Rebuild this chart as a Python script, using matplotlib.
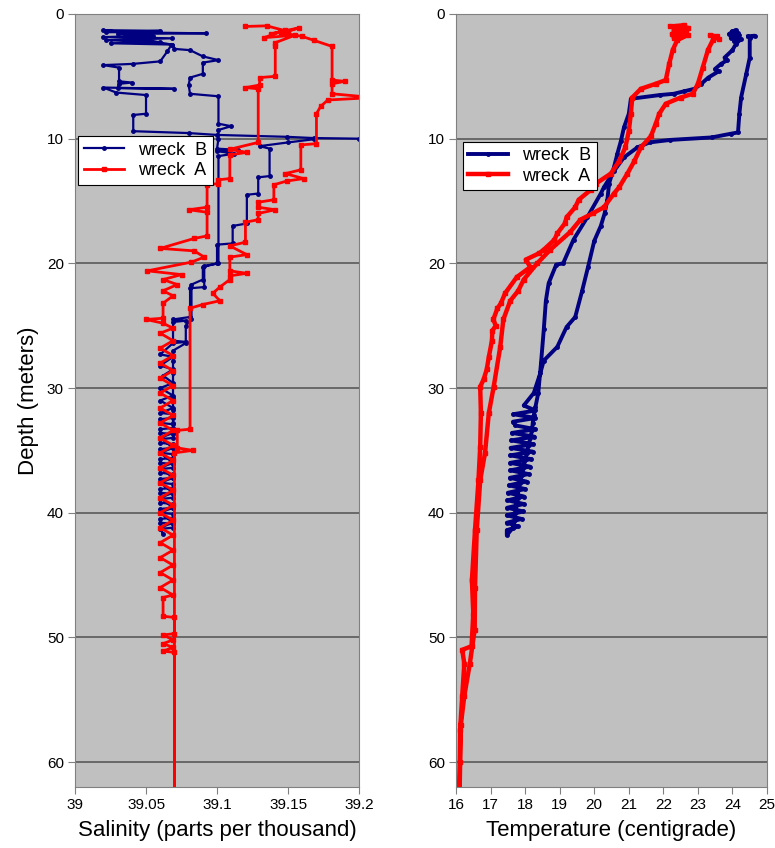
import matplotlib
matplotlib.use('Agg')
import matplotlib.pyplot as plt

plt.rcParams['font.family'] = ['Liberation Sans', 'DejaVu Sans']

# salinity, wreck B (depth in m, salinity in ppt)
sal_b_depth = [
    1.80, 9.95, 10.00, 9.95, 9.85, 9.70, 9.55, 9.40, 8.10, 8.00,
    6.50, 6.30, 5.90, 6.00, 5.95, 5.60, 5.50, 5.40, 4.30, 4.10,
    4.00, 3.80, 3.00, 2.45, 2.35, 2.25, 2.10, 1.95, 1.85, 1.75,
    1.60, 1.55, 1.45, 1.35, 1.30, 1.50, 2.00, 2.45,
    2.80, 2.90, 3.40, 3.70, 3.90, 4.80, 5.10, 5.70, 6.40, 6.60,
    8.80, 9.00, 9.30, 10.00, 10.80, 10.90, 11.00, 11.20, 11.40, 20.00,
    20.20, 21.90, 22.00, 24.30, 24.50, 24.60, 24.70, 26.20, 26.30, 26.40,
    27.30, 27.50, 28.20, 28.50, 29.00, 29.60, 30.00, 30.60, 31.00, 31.60,
    32.00, 32.10, 32.40, 32.50, 32.80, 32.90, 33.20, 33.30, 33.60, 33.70,
    34.00, 34.10, 34.40, 34.50, 34.80, 34.90, 35.20, 35.30, 35.60, 35.70,
    36.00, 36.10, 36.40, 36.50, 36.80, 36.90, 37.20, 37.30, 37.60, 37.70,
    38.00, 38.10, 38.40, 38.50, 38.80, 38.90, 39.20, 39.30, 39.60, 39.70,
    40.00, 40.10, 40.40, 40.50, 40.80, 40.90, 41.20, 41.30, 41.70,
    41.20, 40.80, 40.00, 39.60, 38.80, 38.40, 37.60, 37.20, 36.40, 36.00,
    35.20, 34.80, 34.00, 33.60, 32.80, 31.80, 30.80, 29.80, 28.80, 27.80,
    27.00, 26.40, 25.00, 24.50, 21.70, 21.30, 20.30, 20.00, 18.50, 18.40,
    17.00, 16.80, 14.50, 14.40, 13.10, 13.00, 10.80, 10.60, 10.30, 10.05,
]
sal_b = [
    39.280, 39.280, 39.200, 39.168, 39.149, 39.100, 39.080, 39.041, 39.041, 39.050,
    39.050, 39.029, 39.020, 39.070, 39.030, 39.031, 39.040, 39.031, 39.031, 39.020,
    39.041, 39.060, 39.065, 39.068, 39.025, 39.060, 39.022, 39.068, 39.020, 39.055,
    39.030, 39.092, 39.022, 39.060, 39.020, 39.040, 39.045, 39.068,
    39.070, 39.081, 39.090, 39.101, 39.090, 39.090, 39.081, 39.080, 39.081, 39.101,
    39.101, 39.110, 39.101, 39.101, 39.100, 39.115, 39.100, 39.112, 39.101, 39.101,
    39.091, 39.091, 39.081, 39.081, 39.069, 39.078, 39.069, 39.069, 39.078, 39.069,
    39.060, 39.069, 39.060, 39.069, 39.062, 39.069, 39.060, 39.069, 39.060, 39.069,
    39.060, 39.069, 39.069, 39.060, 39.060, 39.069, 39.069, 39.060, 39.060, 39.069,
    39.069, 39.060, 39.060, 39.069, 39.069, 39.060, 39.060, 39.069, 39.069, 39.060,
    39.060, 39.069, 39.069, 39.060, 39.060, 39.069, 39.069, 39.060, 39.060, 39.069,
    39.069, 39.060, 39.060, 39.069, 39.069, 39.060, 39.060, 39.069, 39.069, 39.060,
    39.060, 39.069, 39.069, 39.060, 39.060, 39.069, 39.069, 39.060, 39.062,
    39.060, 39.069, 39.060, 39.069, 39.060, 39.069, 39.060, 39.069, 39.060, 39.069,
    39.060, 39.069, 39.060, 39.069, 39.069, 39.069, 39.069, 39.069, 39.069, 39.069,
    39.069, 39.078, 39.078, 39.082, 39.082, 39.090, 39.090, 39.100, 39.100, 39.111,
    39.111, 39.121, 39.121, 39.129, 39.129, 39.137, 39.137, 39.130, 39.150, 39.168,
]

# salinity, wreck A
sal_a_depth = [
    1.00, 0.95, 1.40, 1.10, 1.60, 1.30, 1.90, 1.70, 2.30, 2.60,
    5.00, 5.10, 5.70, 5.90, 6.00, 10.30, 10.85, 11.10, 11.30, 13.20,
    13.30, 13.60, 13.70, 15.50, 15.70, 15.90, 17.80, 18.00, 18.80, 19.00,
    19.50, 19.90, 20.60, 20.90, 21.30, 21.70, 22.20, 22.60, 23.20, 24.40,
    24.50, 24.80, 25.20, 25.60, 26.20, 26.80, 27.40, 28.00, 28.60, 29.20,
    29.80, 30.40, 31.00, 31.60, 32.20, 32.80, 33.40, 34.00, 34.60, 35.20,
    35.80, 36.40, 37.00, 37.60, 38.20, 38.80, 39.40, 40.00, 40.60, 41.20,
    41.80, 42.40, 43.00, 43.60, 44.20, 44.80, 45.40, 46.00, 46.60, 46.80,
    48.30, 48.40, 49.70, 49.80, 50.20, 50.50, 50.80, 51.10, 51.20, 63.00,
    35.20, 35.00, 34.80, 33.40, 33.30, 23.60, 23.30, 23.00, 22.40, 21.90,
    21.30, 21.00, 20.80, 20.60, 19.50, 19.30, 18.60, 18.30, 16.70, 16.50,
    16.00, 15.70, 15.50, 15.10, 14.90, 13.70, 13.40, 13.20, 12.80, 12.50,
    10.50, 10.40, 8.00, 7.40, 6.90, 6.70, 6.40, 5.60, 5.40, 5.30,
    2.60, 2.10, 1.80, 1.50,
]
sal_a = [
    39.120, 39.135, 39.150, 39.158, 39.138, 39.148, 39.133, 39.155, 39.141, 39.141,
    39.141, 39.130, 39.130, 39.120, 39.129, 39.129, 39.109, 39.121, 39.109, 39.109,
    39.101, 39.101, 39.093, 39.093, 39.080, 39.093, 39.093, 39.084, 39.060, 39.084,
    39.091, 39.082, 39.051, 39.075, 39.062, 39.072, 39.062, 39.069, 39.062, 39.062,
    39.050, 39.062, 39.069, 39.060, 39.069, 39.060, 39.069, 39.060, 39.069, 39.060,
    39.069, 39.060, 39.069, 39.060, 39.069, 39.060, 39.069, 39.060, 39.069, 39.060,
    39.069, 39.060, 39.069, 39.060, 39.069, 39.060, 39.069, 39.060, 39.069, 39.060,
    39.069, 39.060, 39.069, 39.060, 39.069, 39.060, 39.069, 39.060, 39.069, 39.062,
    39.062, 39.070, 39.070, 39.062, 39.069, 39.062, 39.069, 39.062, 39.070, 39.070,
    39.070, 39.083, 39.072, 39.072, 39.081, 39.081, 39.090, 39.102, 39.097, 39.102,
    39.109, 39.109, 39.121, 39.109, 39.109, 39.121, 39.109, 39.120, 39.120, 39.129,
    39.129, 39.141, 39.129, 39.129, 39.140, 39.140, 39.149, 39.161, 39.148, 39.159,
    39.159, 39.170, 39.170, 39.173, 39.178, 39.210, 39.181, 39.181, 39.190, 39.181,
    39.181, 39.168, 39.160, 39.145,
]

# temperature, wreck B (degrees C)
temp_b_depth = [
    1.40, 1.30, 1.60, 1.50, 1.90, 1.70, 2.20, 2.00, 2.40, 2.90,
    3.50, 3.70, 4.00, 4.40, 4.60, 5.10, 5.60, 6.00, 6.20, 6.40,
    6.50, 6.80, 8.00, 9.10, 10.20, 11.20, 12.30, 13.60, 14.90, 16.00,
    17.00, 18.20, 20.30, 22.20, 24.30, 25.10, 26.70, 27.80, 28.80, 30.40,
    31.40, 31.80, 32.10, 32.40, 32.70, 33.00, 33.30, 33.60, 33.90, 34.20,
    34.50, 34.80, 35.10, 35.40, 35.70, 36.00, 36.30, 36.60, 36.90, 37.20,
    37.50, 37.80, 38.10, 38.40, 38.70, 39.00, 39.30, 39.60, 39.90, 40.20,
    40.50, 40.80, 41.10, 41.40, 41.80, 41.20, 40.60, 40.00, 39.40, 38.80,
    38.20, 37.60, 37.00, 36.40, 35.80, 35.20, 34.60, 34.00, 33.40, 32.80,
    32.20, 31.50, 30.40, 28.00, 25.30, 23.00, 21.60, 20.10, 20.00, 18.10,
    16.30, 14.40, 13.90, 12.60, 11.50, 10.70, 10.30, 10.10, 9.90, 9.60,
    9.50, 8.00, 6.70, 4.80, 3.50, 1.90, 1.74, 1.80,
]
temp_b = [
    24.00, 24.10, 23.90, 24.15, 23.95, 24.20, 24.05, 24.25, 24.10, 24.00,
    23.77, 23.85, 23.67, 23.50, 23.60, 23.30, 23.10, 22.90, 22.60, 22.30,
    21.90, 21.06, 21.00, 20.86, 20.77, 20.67, 20.57, 20.43, 20.38, 20.30,
    20.19, 20.00, 19.82, 19.65, 19.45, 19.20, 18.93, 18.54, 18.44, 18.25,
    17.96, 18.30, 17.66, 18.30, 17.65, 17.72, 18.30, 17.62, 18.27, 17.60,
    18.24, 17.58, 18.22, 17.57, 18.18, 17.57, 18.14, 17.57, 18.10, 17.56,
    18.04, 17.53, 18.00, 17.50, 17.97, 17.49, 17.96, 17.48, 17.95, 17.47,
    17.90, 17.47, 17.80, 17.47, 17.47, 17.65, 17.70, 17.72, 17.75, 17.78,
    17.80, 17.85, 17.90, 17.95, 18.00, 18.05, 18.10, 18.15, 18.20, 18.22,
    18.25, 18.30, 18.38, 18.46, 18.54, 18.60, 18.68, 18.90, 19.10, 19.40,
    19.80, 20.19, 20.28, 20.57, 20.86, 21.25, 21.60, 22.20, 23.40, 23.96,
    24.16, 24.20, 24.25, 24.40, 24.50, 24.50, 24.64, 24.45,
]

# temperature, wreck A
temp_a_depth = [
    1.00, 0.90, 1.30, 1.10, 1.60, 1.40, 1.90, 1.70, 2.10, 2.90,
    4.00, 5.30, 5.60, 6.00, 6.70, 8.00, 9.40, 10.70, 11.80, 12.80,
    13.60, 14.10, 14.90, 15.50, 16.30, 16.80, 17.60, 18.10, 18.90, 19.20,
    19.70, 20.30, 21.10, 22.40, 23.20, 23.60, 24.50, 25.00, 25.40, 26.20,
    27.50, 28.50, 29.30, 29.90, 32.00, 34.70, 37.40, 41.40, 45.40, 48.10,
    50.70, 51.00, 52.10, 54.70, 57.40, 60.00, 63.00, 57.00, 54.70, 52.10,
    49.40, 46.00, 41.40, 37.40, 35.20, 32.00, 29.90, 26.70, 24.50, 23.00,
    22.20, 21.30, 20.00, 18.90, 17.50, 16.50, 16.00, 15.50, 14.40, 13.90,
    12.80, 11.80, 10.70, 9.80, 8.80, 8.00, 7.20, 6.70, 6.40, 5.60,
    4.30, 2.90, 2.10, 1.80, 1.70, 2.00,
]
temp_a = [
    22.20, 22.60, 22.30, 22.70, 22.25, 22.65, 22.30, 22.70, 22.40, 22.27,
    22.17, 22.07, 21.78, 21.35, 21.10, 21.06, 21.00, 20.90, 20.72, 20.48,
    20.05, 19.90, 19.55, 19.45, 19.20, 19.15, 18.93, 18.85, 18.54, 18.40,
    18.02, 18.15, 17.76, 17.42, 17.30, 17.20, 17.08, 17.15, 17.05, 17.04,
    16.95, 16.89, 16.80, 16.70, 16.72, 16.70, 16.65, 16.55, 16.46, 16.50,
    16.45, 16.18, 16.24, 16.18, 16.12, 16.11, 16.10, 16.14, 16.24, 16.40,
    16.54, 16.55, 16.60, 16.70, 16.84, 16.95, 17.09, 17.28, 17.37, 17.57,
    17.80, 17.96, 18.35, 18.73, 19.30, 19.60, 19.95, 20.28, 20.57, 20.72,
    20.96, 21.16, 21.35, 21.64, 21.78, 21.88, 22.07, 22.50, 22.85, 23.00,
    23.14, 23.29, 23.43, 23.55, 23.35, 23.60,
]

assert len(sal_b_depth) == len(sal_b)
assert len(sal_a_depth) == len(sal_a)
assert len(temp_b_depth) == len(temp_b)
assert len(temp_a_depth) == len(temp_a)

depth_ticks = [0, 10, 20, 30, 40, 50, 60]
sal_ticks = [39, 39.05, 39.1, 39.15, 39.2]
sal_tick_labels = ['39', '39.05', '39.1', '39.15', '39.2']
temp_ticks = [16, 17, 18, 19, 20, 21, 22, 23, 24, 25]

blue = '#000080'
red = '#ff0000'

fig = plt.figure(figsize=(7.75, 8.48), dpi=100)
ax1 = fig.add_axes([0.0968, 0.0719, 0.3665, 0.9116])
ax2 = fig.add_axes([0.5884, 0.0719, 0.4013, 0.9116])

for ax in (ax1, ax2):
    ax.set_facecolor('#c0c0c0')
    ax.set_ylim(62, 0)
    ax.set_yticks(depth_ticks)
    ax.yaxis.grid(True, color='#505050', lw=1.1)
    ax.set_axisbelow(True)
    for sp in ax.spines.values():
        sp.set_color('#808080')
    ax.tick_params(direction='out', length=5, color='#808080', labelsize=11, pad=3)

ax1.plot(sal_b, sal_b_depth, color=blue, lw=1.6, marker='o', ms=2.5, label='wreck  B')
ax1.plot(sal_a, sal_a_depth, color=red, lw=2.0, marker='s', ms=2.5, label='wreck  A')
ax1.set_xlim(39, 39.2)
ax1.set_xticks(sal_ticks)
ax1.set_xticklabels(sal_tick_labels)
ax1.set_ylabel('Depth (meters)', fontsize=16, labelpad=6)
ax1.set_xlabel('Salinity (parts per thousand)', fontsize=16, labelpad=6)

ax2.plot(temp_b, temp_b_depth, color=blue, lw=2.8, marker='o', ms=2.5, label='wreck  B')
ax2.plot(temp_a, temp_a_depth, color=red, lw=3.2, marker='s', ms=2.5, label='wreck  A')
ax2.set_xlim(16, 25)
ax2.set_xticks(temp_ticks)
ax2.set_xlabel('Temperature (centigrade)', fontsize=16, labelpad=6)

for ax, anchor in ((ax1, (0.012, 0.842)), (ax2, (0.022, 0.835))):
    leg = ax.legend(loc='upper left', bbox_to_anchor=anchor, fontsize=13,
                    frameon=True, fancybox=False, framealpha=1, edgecolor='black',
                    borderaxespad=0, handlelength=2.2, handletextpad=0.8,
                    borderpad=0.3, labelspacing=0.2)
    leg.get_frame().set_linewidth(0.8)

fig.savefig('out.png', dpi=100)
